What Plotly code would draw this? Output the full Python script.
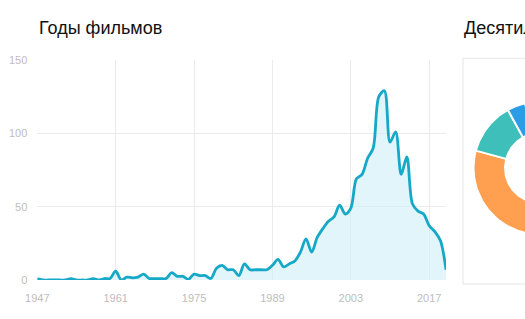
import numpy as np
import plotly.graph_objects as go

# ---------------- data ----------------
years = list(range(1947, 2021))
films = [1, 0, 0,                                  # 1947-1949
         0, 0, 0, 1, 0, 0, 0, 1, 0, 1,             # 1950s
         1, 6, 0, 2, 1.5, 2, 4, 1, 1, 1,           # 1960s
         1, 5, 2.5, 2.5, 0.5, 4, 3, 3, 1, 8,       # 1970s
         10, 7, 7, 3, 11, 7, 7, 7, 7, 10,          # 1980s
         14, 9, 11, 13, 19, 28, 19, 29, 35, 40,    # 1990s
         43, 51, 45, 49, 69, 72, 83, 90, 125, 129, # 2000s
         94, 101, 72, 84, 52, 47, 45, 37, 33, 27,  # 2010s
         7]                                        # 2020
x_ticks = [1947, 1961, 1975, 1989, 2003, 2017]
y_ticks = [0, 50, 100, 150]
title_left = "Годы фильмов"
title_right = "Десятилетия фильмов"
decade_colors = {2000: "#e8575a", 2010: "#ff9f4f", 1990: "#3fbfba", 1980: "#2b9de6",
                 1970: "#8e6fd6", 1960: "#f2c94c", 1950: "#7ccf5b", 1940: "#b0b0b0",
                 2020: "#d96ab0"}

# ---------------- layout helpers ----------------
W, H = 525, 319
def px(x):
    return x / W
def py(y):
    return (H - y) / H

FONT = "Liberation Sans, Arial, sans-serif"
LINE = "#15a9c7"
GRID = "#ebebeb"
TICK = "#bdbdbd"

fig = go.Figure()

fig.add_trace(go.Scatter(
    x=years, y=films, mode="lines",
    line=dict(color=LINE, width=2.8, shape="spline", smoothing=0.9),
    fill="tozeroy", fillcolor="rgba(205,238,246,0.6)",
    hoverinfo="skip", showlegend=False, xaxis="x", yaxis="y"))

# ---------------- donut (decades, sorted desc, clockwise from top) ----------------
dec_sum = {}
for yr, v in zip(years, films):
    d = yr // 10 * 10
    dec_sum[d] = dec_sum.get(d, 0) + v
dec_sorted = sorted(dec_sum.items(), key=lambda kv: -kv[1])
total = sum(v for _, v in dec_sorted)
R_out, R_in = 66.5, 35.0
cum = 0.0
for d, v in dec_sorted:
    a0 = np.deg2rad(90 - 360 * cum / total)
    a1 = np.deg2rad(90 - 360 * (cum + v) / total)
    t = np.linspace(a0, a1, 80)
    xs = np.concatenate([R_out * np.cos(t), R_in * np.cos(t[::-1]), [R_out * np.cos(t[0])]])
    ys = np.concatenate([R_out * np.sin(t), R_in * np.sin(t[::-1]), [R_out * np.sin(t[0])]])
    fig.add_trace(go.Scatter(
        x=xs, y=ys, mode="lines", fill="toself",
        fillcolor=decade_colors[d], line=dict(color="white", width=2),
        hoverinfo="skip", showlegend=False, xaxis="x2", yaxis="y2"))
    cum += v

cx, cy = 540, 168
box_l, box_t, box_b = 463, 58.3, 284

fig.update_layout(
    width=W, height=H,
    margin=dict(l=0, r=0, t=0, b=0, pad=0, autoexpand=False),
    paper_bgcolor="white", plot_bgcolor="white",
    font=dict(family=FONT),
    xaxis=dict(domain=[px(37.3), px(446)], range=[1947, 2020],
               tickvals=x_ticks, ticktext=[str(v) for v in x_ticks],
               showgrid=True, gridcolor=GRID, gridwidth=1,
               zeroline=False, showline=False, ticks="",
               tickfont=dict(size=11, color=TICK, family=FONT),
               ticklabelstandoff=10, fixedrange=True, automargin=False),
    yaxis=dict(domain=[py(280), py(60)], range=[0, 150],
               tickvals=y_ticks,
               showgrid=True, gridcolor=GRID, gridwidth=1,
               zeroline=False, showline=False, ticks="",
               tickfont=dict(size=11, color=TICK, family=FONT),
               ticklabelstandoff=9, fixedrange=True, automargin=False),
    xaxis2=dict(domain=[px(box_l + 0.5), 1], anchor="y2",
                range=[box_l + 0.5 - cx, W - cx], visible=False, fixedrange=True,
                automargin=False),
    yaxis2=dict(domain=[py(box_b - 0.5), py(box_t + 0.5)], anchor="x2",
                range=[cy - (box_b - 0.5), cy - (box_t + 0.5)], visible=False,
                fixedrange=True, automargin=False),
    shapes=[dict(type="rect", xref="paper", yref="paper",
                 x0=px(box_l), x1=1.05, y0=py(box_b), y1=py(box_t),
                 line=dict(color="#e6e6e6", width=1), fillcolor="rgba(0,0,0,0)",
                 layer="below")],
    annotations=[
        dict(text=title_left, xref="paper", yref="paper", x=px(37), y=py(28.5),
             xanchor="left", yanchor="middle", showarrow=False,
             font=dict(size=18, color="#111111", family=FONT)),
        dict(text=title_right, xref="paper", yref="paper", x=px(461.5), y=py(28.5),
             xanchor="left", yanchor="middle", showarrow=False,
             font=dict(size=18, color="#111111", family=FONT)),
    ],
)

fig.write_html("out.html")
